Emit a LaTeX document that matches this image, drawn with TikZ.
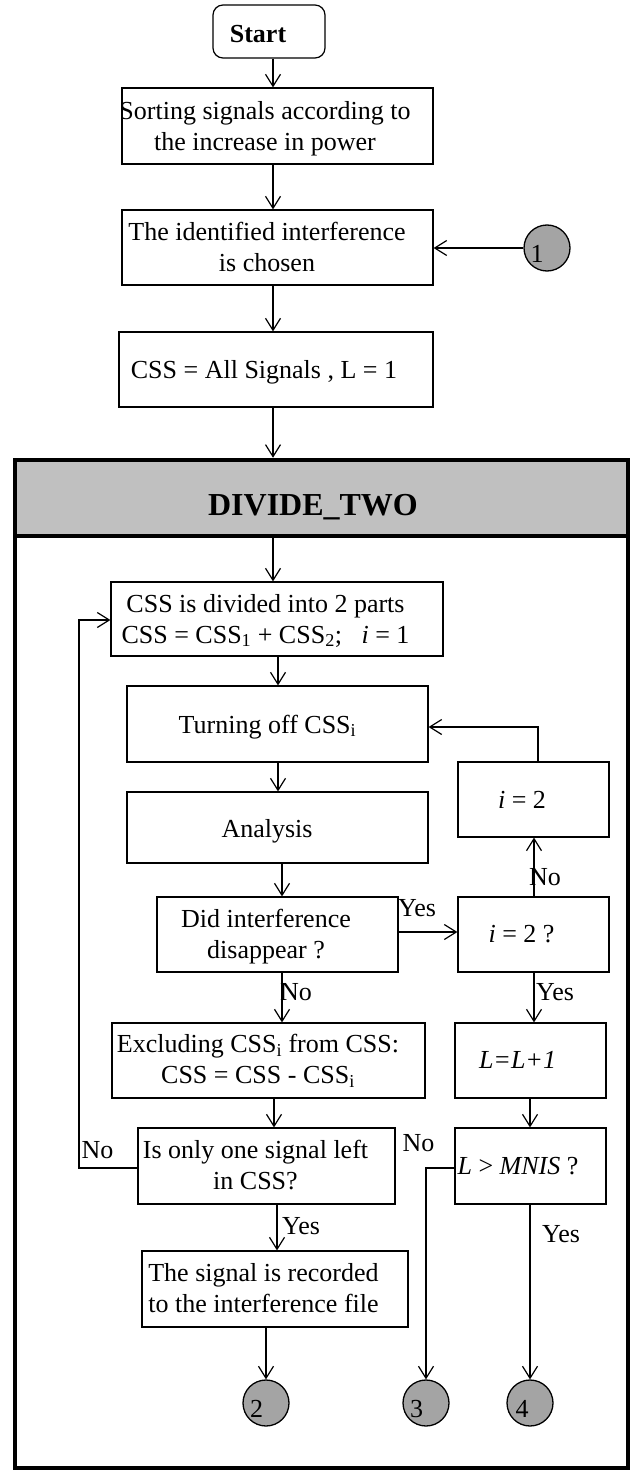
\documentclass[tikz,border=0pt]{standalone}
\usepackage{fontspec}
\setmainfont{Liberation Serif}
\usetikzlibrary{arrows.meta}
\definecolor{hdrgray}{RGB}{192,192,192}
\definecolor{cirgray}{RGB}{164,164,164}
\begin{document}
\begin{tikzpicture}[x=1pt,y=-1pt,
  box/.style={draw, line width=1.2pt, rectangle, inner sep=0pt},
  txt/.style={inner sep=0pt, align=center, font=\fontsize{26}{31}\selectfont},
  conn/.style={line width=1.2pt, -{Straight Barb[length=12pt,width=15pt]}},
  circ/.style={circle, draw, line width=1.3pt, fill=cirgray, minimum size=46pt, inner sep=0pt},
]
\useasboundingbox (0,0) rectangle (631,1471);

% column / row helpers
\coordinate (cA) at (273,0);
\coordinate (cB) at (278,0);
\coordinate (cC) at (282,0);
\coordinate (cD) at (274,0);
\coordinate (cE) at (277,0);
\coordinate (cF) at (266,0);
\coordinate (cG) at (538,0);
\coordinate (cH) at (534,0);
\coordinate (cI) at (530,0);
\coordinate (cJ) at (426,0);
\coordinate (cK) at (79,0);
\coordinate (r1) at (0,248);
\coordinate (r2) at (0,620);
\coordinate (r3) at (0,727);
\coordinate (r4) at (0,932);
\coordinate (r5) at (0,1168);

% boxes
\node[box, rounded corners=10pt, minimum width=112pt, minimum height=53pt] (start) at (269,31.5) {};
\node[box, minimum width=311pt, minimum height=76pt] (b1) at (277.5,126) {};
\node[box, minimum width=311pt, minimum height=75pt] (b2) at (277.5,247.5) {};
\node[box, minimum width=314pt, minimum height=75pt] (b3) at (276,369.5) {};

\node[draw, fill=hdrgray, line width=4.5pt, minimum width=613pt, minimum height=76pt, inner sep=0pt] (hdr) at (321.5,498) {};
\node[draw, line width=4.5pt, minimum width=613pt, minimum height=1008pt, inner sep=0pt] (frame) at (321.5,964) {};
\node[anchor=base, inner sep=0pt, font=\fontsize{32}{36}\selectfont\bfseries] (hdrtxt) at (313,515) {DIVIDE\_TWO};

\node[box, minimum width=332pt, minimum height=74pt] (b4) at (277,619) {};
\node[box, minimum width=301pt, minimum height=76pt] (b5) at (277.5,724) {};
\node[box, minimum width=301pt, minimum height=71pt] (anal) at (277.5,827.5) {};
\node[box, minimum width=241pt, minimum height=75pt] (did) at (277.5,934.5) {};
\node[box, minimum width=313pt, minimum height=75pt] (excl) at (268.5,1060.5) {};
\node[box, minimum width=257pt, minimum height=76pt] (iso) at (266.5,1166) {};
\node[box, minimum width=266pt, minimum height=76pt] (sig) at (275,1289) {};
\node[box, minimum width=151pt, minimum height=75pt] (i2) at (533.5,799.5) {};
\node[box, minimum width=151pt, minimum height=75pt] (i2q) at (533.5,934.5) {};
\node[box, minimum width=151pt, minimum height=75pt] (Lp) at (530.5,1060.5) {};
\node[box, minimum width=151pt, minimum height=76pt] (Lm) at (530.5,1166) {};

% circles
\node[circ] (c1) at (547,248) {};
\node[circ] (c2) at (266,1403) {};
\node[circ] (c3) at (426,1403) {};
\node[circ] (c4) at (530,1403) {};

% texts
\node[txt, anchor=base] (tStart) at (258,43) {\bfseries Start};
\node[txt] (t1) at (265,128.5) {Sorting signals according to\\the increase in power};
\node[txt] (t2) at (267,247) {The identified interference\\is chosen};
\node[txt, anchor=base] (t3) at (264,378) {CSS = All Signals , L = 1};
\node[txt] (t4) at (265.5,620.5) {CSS is divided into 2 parts\\CSS = CSS\textsubscript{1} + CSS\textsubscript{2};~~~\textit{i} = 1};
\node[txt, anchor=base] (t5) at (267.5,733) {Turning off CSS\textsubscript{i}};
\node[txt, anchor=base] (t6) at (267,837) {Analysis};
\node[txt] (t7) at (266,936.3) {Did interference\\disappear ?};
\node[txt] (t8) at (258,1060.5) {Excluding CSS\textsubscript{i} from CSS:\\CSS = CSS - CSS\textsubscript{i}};
\node[txt] (t9) at (255.5,1165) {Is only one signal left\\in CSS?};
\node[txt] (t10) at (263.5,1288) {The signal is recorded\\to the interference file};
\node[txt, anchor=base] (t11) at (522,808.3) {\textit{i} = 2};
\node[txt, anchor=base] (t12) at (521.5,942.7) {\textit{i} = 2 ?};
\node[txt, anchor=base] (t13) at (517.5,1068.3) {\textit{L=L+1}};
\node[txt, anchor=base] (t14) at (518,1174.3) {\textit{L} > \textit{MNIS} ?};

% labels
\node[txt, anchor=base] (yes1) at (417,916) {Yes};
\node[txt, anchor=base] (no1) at (545,885) {No};
\node[txt, anchor=base] (no2) at (296,1000) {No};
\node[txt, anchor=base] (yes2) at (555,1000) {Yes};
\node[txt, anchor=base] (no3) at (97.5,1158.3) {No};
\node[txt, anchor=base] (yes3) at (301,1234.3) {Yes};
\node[txt, anchor=base] (no4) at (418.5,1151.7) {No};
\node[txt, anchor=base] (yes4) at (561,1242.7) {Yes};
\node[txt, anchor=base] (l1) at (537,262) {1};
\node[txt, anchor=base] (l2) at (256.5,1417.7) {2};
\node[txt, anchor=base] (l3) at (416.5,1417.7) {3};
\node[txt, anchor=base] (l4) at (522,1417.7) {4};

% connectors
\draw[conn] (start.south -| cA) -- (b1.north -| cA);
\draw[conn] (b1.south -| cA) -- (b2.north -| cA);
\draw[conn] (c1.west) -- (b2.east |- c1.west);
\draw[conn] (b2.south -| cA) -- (b3.north -| cA);
\draw[conn] (b3.south -| cA) -- (hdr.north -| cA);
\draw[conn] (hdr.south -| cA) -- (b4.north -| cA);
\draw[conn] (b4.south -| cB) -- (b5.north -| cB);
\draw[conn] (b5.south -| cB) -- (anal.north -| cB);
\draw[conn] (anal.south -| cC) -- (did.north -| cC);
\draw[conn] (did.south -| cC) -- (excl.north -| cC);
\draw[conn] (excl.south -| cD) -- (iso.north -| cD);
\draw[conn] (iso.south -| cE) -- (sig.north -| cE);
\draw[conn] (sig.south -| cF) -- (c2.north);
\draw[conn] (did.east |- r4) -- (i2q.west |- r4);
\draw[conn] (i2q.north -| cH) -- (i2.south -| cH);
\draw[conn] (i2q.south -| cH) -- (Lp.north -| cH);
\draw[conn] (Lp.south -| cI) -- (Lm.north -| cI);
\draw[conn] (Lm.south -| cI) -- (c4.north);
\draw[conn] (Lm.west |- r5) -- (r5 -| cJ) -- (c3.north);
\draw[conn] (i2.north -| cG) -- (r3 -| cG) -- (b5.east |- r3);
\draw[conn] (iso.west |- r5) -- (r5 -| cK) -- (r2 -| cK) -- (b4.west |- r2);
\end{tikzpicture}
\end{document}
